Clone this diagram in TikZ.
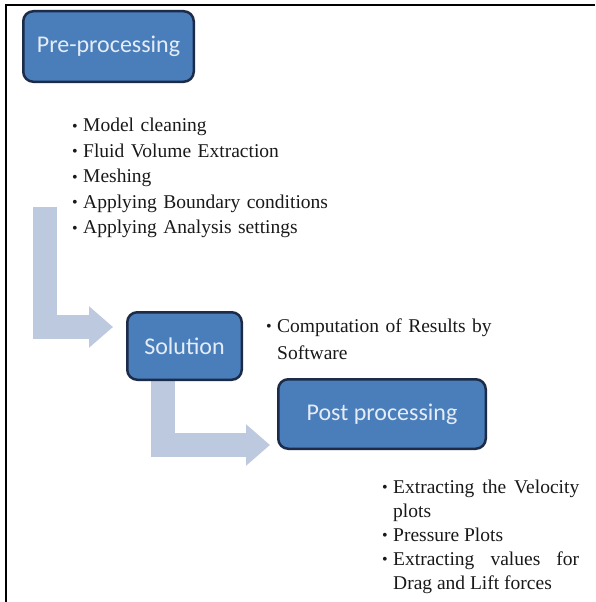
\documentclass[tikz,border=0pt]{standalone}
\usepackage{fontspec}
\setmainfont{Liberation Serif}
\newfontfamily\boxfont{Carlito}
\usetikzlibrary{positioning, arrows.meta, backgrounds}

\definecolor{stagefill}{HTML}{4A7EBB}
\definecolor{stageline}{HTML}{1C2B47}
\definecolor{stagetext}{HTML}{E4ECF7}
\definecolor{flowcol}{HTML}{BCC9DE}

% one bullet point with hanging indent
\newcommand{\bpoint}[1]{\par\hangindent=11pt\hangafter=1\noindent
  \makebox[11pt][l]{\raisebox{0.5pt}{\fontsize{16}{16}\selectfont\textbullet}}\strut#1\par}

\begin{document}
\begin{tikzpicture}[x=1pt, y=-1pt,
  stage/.style={rectangle, draw=stageline, fill=stagefill, line width=2.5pt, rounded corners=10pt, text=stagetext, font=\boxfont\fontsize{24}{28}\selectfont, inner sep=0pt},
  notes/.style={anchor=north west, inner sep=0pt, align=left, text=black!90, font=\fontsize{19.5}{25.5}\selectfont},
  flow/.style={draw=flowcol, line width=24pt, line join=miter, -{Triangle[length=24pt, width=40pt]}}
]
  \useasboundingbox (0,0) rectangle (595,602);

  % frame
  \draw[line width=2.5pt] (6,602) -- (6,5) -- (595,5);

  % stages
  \node[stage, minimum width=170.5pt, minimum height=70.5pt] (pre) at (108.5,46.5) {Pre-processing};
  \node[stage, minimum width=114.5pt, minimum height=67.5pt] (solution) at (184.5,346) {Solution};
  \node[stage, minimum width=207.5pt, minimum height=69.5pt] (post) at (382,414) {Post processing};

  % notes
  \node[notes, text width=270pt] (prelist) at (72,106) {%
    \bpoint{Model cleaning}
    \bpoint{Fluid Volume Extraction}
    \bpoint{Meshing}
    \bpoint{Applying Boundary conditions}
    \bpoint{Applying Analysis settings}};
  \node[notes, text width=235pt, font=\fontsize{19.5}{27}\selectfont] (sollist) at (266,305) {%
    \bpoint{Computation of Results by Software}};
  \node[notes, align=justify, text width=197pt, font=\fontsize{19.5}{24}\selectfont] (postlist) at (382,469) {%
    \bpoint{Extracting the Velocity plots}
    \bpoint{Pressure Plots}
    \bpoint{Extracting values for Drag and Lift forces}};

  % flow arrows
  \coordinate (flowstart) at (45,207);
  \begin{scope}[on background layer]
    \draw[flow] (flowstart) |- ([xshift=-13pt,yshift=19pt]solution.west);
    \draw[flow] ([xshift=-22pt]solution.south) |- ([xshift=-7pt,yshift=-31pt]post.west);
  \end{scope}
\end{tikzpicture}
\end{document}
